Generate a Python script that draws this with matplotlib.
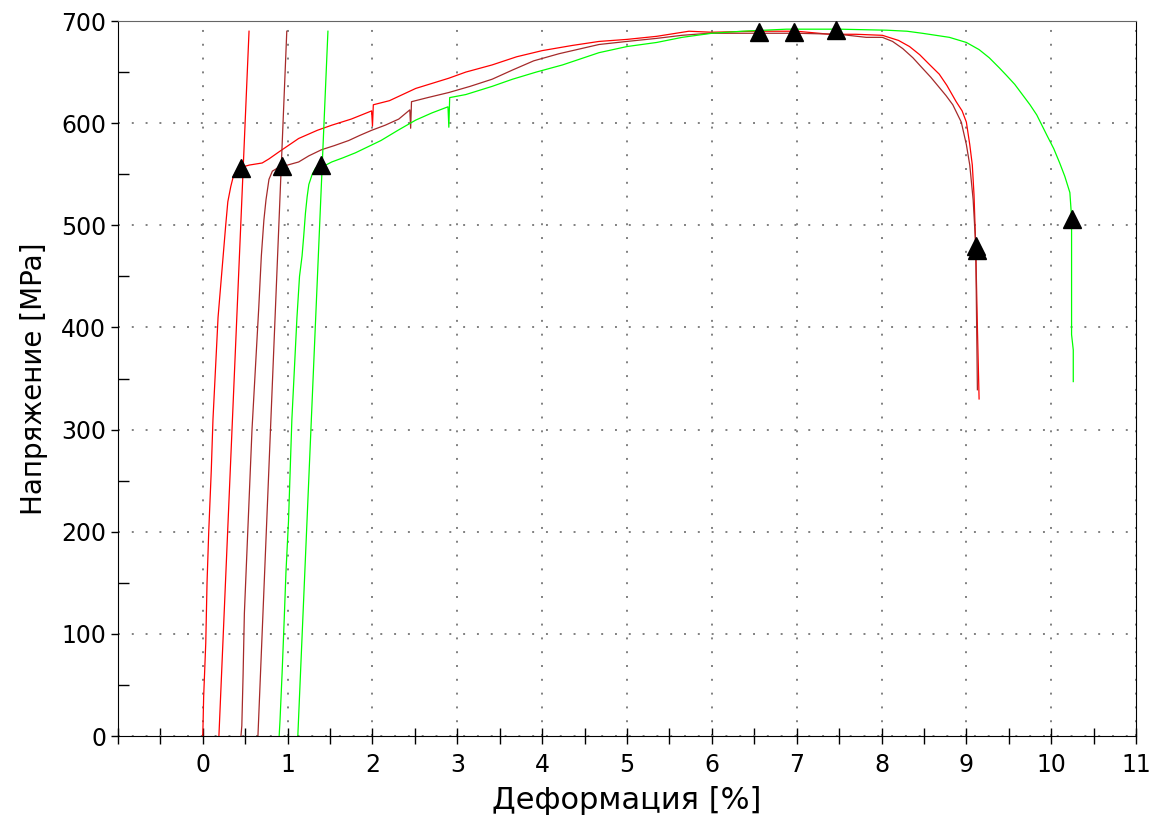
import matplotlib
matplotlib.use("Agg")
import matplotlib.pyplot as plt
from matplotlib.ticker import MultipleLocator

# specimen 1 (red)
red_x = [0.00, 0.01, 0.035, 0.05, 0.07, 0.10, 0.12, 0.15, 0.18, 0.22, 0.25, 0.27, 0.295, 0.33, 0.36,
         0.42, 0.55, 0.70, 0.78, 0.90, 1.13, 1.35, 1.52, 1.75, 1.99, 2.00, 2.01, 2.20, 2.51, 2.90,
         3.10, 3.41, 3.70, 4.00, 4.35, 4.67, 5.00, 5.35, 5.73, 6.00, 6.50, 7.00, 7.39, 7.70, 8.01,
         8.20, 8.33, 8.45, 8.57, 8.68, 8.77, 8.88, 8.95, 9.00, 9.04, 9.07, 9.09, 9.11, 9.13, 9.15]
red_y = [0, 38, 91, 150, 200, 260, 310, 360, 410, 450, 480, 500, 523, 538, 548,
         556, 559, 561, 565, 572, 585, 593, 598, 604, 612, 597, 618, 622, 634, 644,
         650, 657, 665, 671, 676, 680, 682, 685, 690, 689, 690, 690, 687, 687, 686,
         681, 675, 667, 657, 648, 637, 621, 612, 601, 579, 559, 530, 480, 400, 330]

# specimen 2 (dark red)
brown_x = [0.45, 0.46, 0.475, 0.49, 0.52, 0.55, 0.58, 0.62, 0.66, 0.69, 0.72, 0.745, 0.78, 0.82,
           0.90, 1.00, 1.13, 1.25, 1.40, 1.55, 1.72, 1.85, 1.99, 2.15, 2.31, 2.44, 2.45, 2.46,
           2.65, 2.90, 3.15, 3.41, 3.65, 3.90, 4.20, 4.67, 5.00, 5.35, 5.65, 5.97, 6.50, 7.00,
           7.50, 7.82, 8.01, 8.13, 8.25, 8.37, 8.48, 8.58, 8.68, 8.76, 8.84, 8.94, 9.00, 9.04,
           9.08, 9.11, 9.13]
brown_y = [0, 10, 60, 120, 180, 240, 300, 360, 420, 470, 505, 525, 545, 553,
           557, 559, 562, 568, 574, 578, 583, 588, 593, 598, 604, 613, 595, 621,
           625, 630, 636, 643, 652, 661, 668, 677, 680, 683, 686, 688, 688, 688,
           687, 684, 684, 680, 673, 664, 654, 645, 635, 627, 618, 601, 579, 559,
           525, 481, 339]

# specimen 3 (green)
green_x = [0.90, 0.91, 0.935, 0.96, 0.98, 1.01, 1.03, 1.05, 1.08, 1.11, 1.14, 1.17, 1.19, 1.21,
           1.23, 1.25, 1.29, 1.33, 1.45, 1.52, 1.65, 1.80, 1.95, 2.10, 2.30, 2.51, 2.70, 2.89,
           2.90, 2.91, 3.10, 3.41, 3.65, 3.93, 4.24, 4.67, 5.00, 5.35, 5.65, 6.00, 6.36, 6.88,
           7.50, 8.06, 8.30, 8.48, 8.80, 9.00, 9.15, 9.27, 9.39, 9.47, 9.57, 9.66, 9.75, 9.83,
           9.95, 10.03, 10.10, 10.16, 10.22, 10.24, 10.24, 10.26, 10.26]
green_y = [0, 15, 62, 115, 160, 210, 260, 310, 360, 410, 450, 470, 490, 512,
           528, 540, 550, 556, 559, 562, 566, 571, 577, 583, 593, 603, 610, 616,
           596, 625, 628, 636, 643, 650, 657, 669, 675, 679, 684, 688, 690, 692,
           692, 691, 690, 688, 684, 679, 672, 664, 654, 647, 638, 628, 618, 608,
           588, 575, 561, 548, 532, 508, 393, 378, 347]

# 0.2% offset lines
offset_x0 = [0.19, 0.65, 1.12]
offset_x1 = [0.545, 0.99, 1.475]
offset_top = 690

# markers: yield, max, fracture
tri_x = [0.45, 0.93, 1.39, 6.56, 6.97, 7.46, 9.11, 9.13, 10.25]
tri_y = [556, 558, 559, 689, 689, 691, 480, 476, 506]

colors = ["#ff0000", "#a52a2a", "#00ff00"]

fig = plt.figure(figsize=(11.53, 8.27), dpi=100)
ax = fig.add_axes([0.1023, 0.110, 0.8830, 0.8646])

for xs, ys, c in zip([red_x, brown_x, green_x], [red_y, brown_y, green_y], colors):
    ax.plot(xs, ys, color=c, linewidth=0.9)

for x0, x1, c in zip(offset_x0, offset_x1, colors):
    ax.plot([x0, x1], [0, offset_top], color=c, linewidth=0.9)

ax.plot(tri_x, tri_y, linestyle="none", marker="^", markersize=13,
        color="black", clip_on=False, zorder=5)

ax.set_xlim(-1, 11)
ax.set_ylim(0, 700)
ax.xaxis.set_minor_locator(MultipleLocator(0.5))
ax.yaxis.set_major_locator(MultipleLocator(100))
ax.yaxis.set_minor_locator(MultipleLocator(50))
ax.set_xticks(range(0, 12))
ax.tick_params(axis="x", which="both", direction="inout", length=11, width=1, labelsize=17, pad=7)
ax.tick_params(axis="y", which="major", direction="out", length=5, width=1, labelsize=17)
ax.tick_params(axis="y", which="minor", direction="in", length=8, width=1)

ax.grid(True, which="major", color="#808080", linewidth=1.4, dashes=(1, 6.1))
ax.spines["top"].set_color("#666666")

ax.set_xlabel("Деформация [%]", fontsize=22, labelpad=6)
ax.set_ylabel("Напряжение [MPa]", fontsize=20, labelpad=9)

fig.savefig("out.png", dpi=100)
